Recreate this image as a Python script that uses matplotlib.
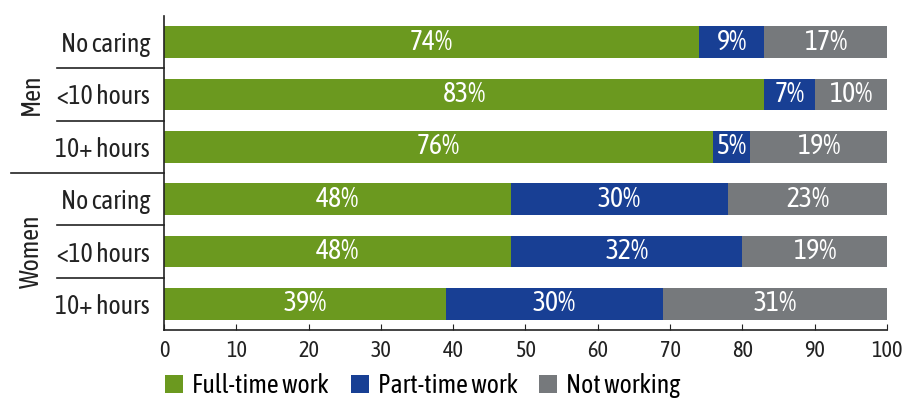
import matplotlib
matplotlib.use("Agg")
import matplotlib.pyplot as plt
import matplotlib.transforms as mtransforms

plt.rcParams["font.family"] = ["Asap Condensed", "Lato", "DejaVu Sans"]

# Veriler
categories = ["No caring", "<10 hours", "10+ hours", "No caring", "<10 hours", "10+ hours"]
groups = ["Men", "Women"]
series_names = ["Full-time work", "Part-time work", "Not working"]
full_time = [74, 83, 76, 48, 48, 39]
part_time = [9, 7, 5, 30, 32, 30]
not_working = [17, 10, 19, 22, 20, 31]
full_labels = ["74%", "83%", "76%", "48%", "48%", "39%"]
part_labels = ["9%", "7%", "5%", "30%", "32%", "30%"]
not_labels = ["17%", "10%", "19%", "23%", "19%", "31%"]
x_ticks = [0, 10, 20, 30, 40, 50, 60, 70, 80, 90, 100]

colors = ["#6b991f", "#183f94", "#76797c"]
dark = "#222222"

fig = plt.figure(figsize=(9.2, 4.01), dpi=100)
ax = fig.add_axes([164 / 920, 1 - 330 / 401, 723 / 920, 314 / 401])

y = list(range(len(categories)))
left = [0] * len(categories)
for vals, labs, col, name in zip([full_time, part_time, not_working],
                                 [full_labels, part_labels, not_labels],
                                 colors, series_names):
    ax.barh(y, vals, left=left, height=0.6, color=col, label=name)
    for yi, l, v, t in zip(y, left, vals, labs):
        ax.text(l + v / 2, yi, t, ha="center", va="center", color="white", fontsize=20)
    left = [a + b for a, b in zip(left, vals)]

ax.set_xlim(0, 100)
ax.set_ylim(5.5, -0.5)
ax.set_xticks(x_ticks)
ax.tick_params(axis="x", direction="in", length=4, labelsize=16, pad=7, colors=dark)
ax.set_yticks(y)
ax.set_yticklabels(categories)
ax.tick_params(axis="y", length=0, labelsize=18.5, pad=10, colors=dark)
for s in ["top", "right"]:
    ax.spines[s].set_visible(False)
for s in ["left", "bottom"]:
    ax.spines[s].set_color(dark)
    ax.spines[s].set_linewidth(1.2)

# Ayırıcı çizgiler
trans = mtransforms.blended_transform_factory(ax.transAxes, ax.transData)
for b in [0.5, 1.5, 3.5, 4.5]:
    ax.plot([-0.148, 0], [b, b], color=dark, lw=1.2, transform=trans, clip_on=False)
ax.plot([-0.212, 0], [2.5, 2.5], color=dark, lw=1.2, transform=trans, clip_on=False)

# Grup etiketleri
for g, c in zip(groups, [1, 4]):
    ax.text(-0.183, c, g, rotation=90, ha="center", va="center", fontsize=18.5,
            color=dark, transform=trans)

fig.legend(loc="lower left", bbox_to_anchor=(142 / 920, -0.05), ncol=3, frameon=False,
           fontsize=18.5, handlelength=0.7, handleheight=0.7, handletextpad=0.35,
           columnspacing=0.85)

fig.savefig("out.png", dpi=100)
